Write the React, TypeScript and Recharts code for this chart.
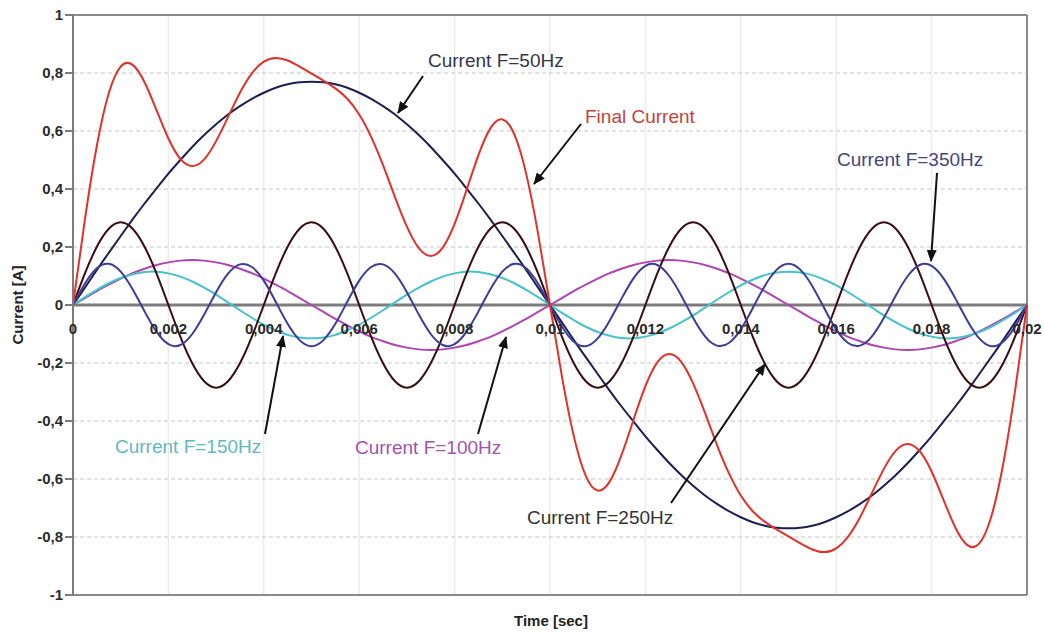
import React from 'react';
import { LineChart, Line, XAxis, YAxis, CartesianGrid, ReferenceLine } from 'recharts';

// time samples [sec]
const time = [
  0, 0.00025, 0.0005, 0.00075, 0.001, 0.00125, 0.0015, 0.00175, 0.002, 0.00225,
  0.0025, 0.00275, 0.003, 0.00325, 0.0035, 0.00375, 0.004, 0.00425, 0.0045, 0.00475,
  0.005, 0.00525, 0.0055, 0.00575, 0.006, 0.00625, 0.0065, 0.00675, 0.007, 0.00725,
  0.0075, 0.00775, 0.008, 0.00825, 0.0085, 0.00875, 0.009, 0.00925, 0.0095, 0.00975,
  0.01, 0.01025, 0.0105, 0.01075, 0.011, 0.01125, 0.0115, 0.01175, 0.012, 0.01225,
  0.0125, 0.01275, 0.013, 0.01325, 0.0135, 0.01375, 0.014, 0.01425, 0.0145, 0.01475,
  0.015, 0.01525, 0.0155, 0.01575, 0.016, 0.01625, 0.0165, 0.01675, 0.017, 0.01725,
  0.0175, 0.01775, 0.018, 0.01825, 0.0185, 0.01875, 0.019, 0.01925, 0.0195, 0.01975,
  0.02,
];

const current50 = [
  0, 0.06, 0.121, 0.18, 0.238, 0.295, 0.35, 0.402, 0.453, 0.5,
  0.545, 0.586, 0.623, 0.657, 0.686, 0.711, 0.732, 0.749, 0.761, 0.768,
  0.77, 0.768, 0.761, 0.749, 0.732, 0.711, 0.686, 0.657, 0.623, 0.586,
  0.545, 0.5, 0.453, 0.402, 0.35, 0.295, 0.238, 0.18, 0.121, 0.06,
  0, -0.06, -0.121, -0.18, -0.238, -0.295, -0.35, -0.402, -0.453, -0.5,
  -0.545, -0.586, -0.623, -0.657, -0.686, -0.711, -0.732, -0.749, -0.761, -0.768,
  -0.77, -0.768, -0.761, -0.749, -0.732, -0.711, -0.686, -0.657, -0.623, -0.586,
  -0.545, -0.5, -0.453, -0.402, -0.35, -0.295, -0.238, -0.18, -0.121, -0.06,
  0,
];

const current100 = [
  0, 0.024, 0.048, 0.07, 0.091, 0.11, 0.125, 0.138, 0.147, 0.153,
  0.155, 0.153, 0.147, 0.138, 0.125, 0.11, 0.091, 0.07, 0.048, 0.024,
  0, -0.024, -0.048, -0.07, -0.091, -0.11, -0.125, -0.138, -0.147, -0.153,
  -0.155, -0.153, -0.147, -0.138, -0.125, -0.11, -0.091, -0.07, -0.048, -0.024,
  0, 0.024, 0.048, 0.07, 0.091, 0.11, 0.125, 0.138, 0.147, 0.153,
  0.155, 0.153, 0.147, 0.138, 0.125, 0.11, 0.091, 0.07, 0.048, 0.024,
  0, -0.024, -0.048, -0.07, -0.091, -0.11, -0.125, -0.138, -0.147, -0.153,
  -0.155, -0.153, -0.147, -0.138, -0.125, -0.11, -0.091, -0.07, -0.048, -0.024,
  0,
];

const current150 = [
  0, 0.027, 0.052, 0.075, 0.093, 0.106, 0.114, 0.115, 0.109, 0.098,
  0.081, 0.06, 0.036, 0.009, -0.018, -0.044, -0.068, -0.087, -0.103, -0.112,
  -0.115, -0.112, -0.103, -0.087, -0.068, -0.044, -0.018, 0.009, 0.036, 0.06,
  0.081, 0.098, 0.109, 0.115, 0.114, 0.106, 0.093, 0.075, 0.052, 0.027,
  0, -0.027, -0.052, -0.075, -0.093, -0.106, -0.114, -0.115, -0.109, -0.098,
  -0.081, -0.06, -0.036, -0.009, 0.018, 0.044, 0.068, 0.087, 0.103, 0.112,
  0.115, 0.112, 0.103, 0.087, 0.068, 0.044, 0.018, -0.009, -0.036, -0.06,
  -0.081, -0.098, -0.109, -0.115, -0.114, -0.106, -0.093, -0.075, -0.052, -0.027,
  0,
];

const current250 = [
  0, 0.109, 0.201, 0.263, 0.285, 0.263, 0.201, 0.109, 0, -0.109,
  -0.201, -0.263, -0.285, -0.263, -0.201, -0.109, 0, 0.109, 0.201, 0.263,
  0.285, 0.263, 0.201, 0.109, 0, -0.109, -0.201, -0.263, -0.285, -0.263,
  -0.201, -0.109, 0, 0.109, 0.201, 0.263, 0.285, 0.263, 0.201, 0.109,
  0, -0.109, -0.201, -0.263, -0.285, -0.263, -0.201, -0.109, 0, 0.109,
  0.201, 0.263, 0.285, 0.263, 0.201, 0.109, 0, -0.109, -0.201, -0.263,
  -0.285, -0.263, -0.201, -0.109, 0, 0.109, 0.201, 0.263, 0.285, 0.263,
  0.201, 0.109, 0, -0.109, -0.201, -0.263, -0.285, -0.263, -0.201, -0.109,
  0,
];

const current350 = [
  0, 0.074, 0.127, 0.142, 0.115, 0.054, -0.022, -0.092, -0.135, -0.138,
  -0.1, -0.033, 0.044, 0.108, 0.14, 0.131, 0.084, 0.011, -0.065, -0.121,
  -0.142, -0.121, -0.065, 0.011, 0.084, 0.131, 0.14, 0.108, 0.044, -0.033,
  -0.1, -0.138, -0.135, -0.092, -0.022, 0.054, 0.115, 0.142, 0.127, 0.074,
  0, -0.074, -0.127, -0.142, -0.115, -0.054, 0.022, 0.092, 0.135, 0.138,
  0.1, 0.033, -0.044, -0.108, -0.14, -0.131, -0.084, -0.011, 0.065, 0.121,
  0.142, 0.121, 0.065, -0.011, -0.084, -0.131, -0.14, -0.108, -0.044, 0.033,
  0.1, 0.138, 0.135, 0.092, 0.022, -0.054, -0.115, -0.142, -0.127, -0.074,
  0,
];

const finalCurrent = [
  0, 0.295, 0.549, 0.73, 0.822, 0.828, 0.768, 0.672, 0.574, 0.504,
  0.479, 0.502, 0.565, 0.648, 0.732, 0.799, 0.839, 0.852, 0.843, 0.822,
  0.798, 0.774, 0.747, 0.711, 0.657, 0.58, 0.482, 0.372, 0.27, 0.196,
  0.169, 0.198, 0.28, 0.396, 0.517, 0.609, 0.64, 0.589, 0.453, 0.246,
  0, -0.246, -0.453, -0.589, -0.64, -0.609, -0.517, -0.396, -0.28, -0.198,
  -0.169, -0.196, -0.27, -0.372, -0.482, -0.58, -0.657, -0.711, -0.747, -0.774,
  -0.798, -0.822, -0.843, -0.852, -0.839, -0.799, -0.732, -0.648, -0.565, -0.502,
  -0.479, -0.504, -0.574, -0.672, -0.768, -0.828, -0.822, -0.73, -0.549, -0.295,
  0,
];

const xTicks = [0, 0.002, 0.004, 0.006, 0.008, 0.01, 0.012, 0.014, 0.016, 0.018, 0.02];
const xTickLabels = ['0', '0,002', '0,004', '0,006', '0,008', '0,01', '0,012', '0,014', '0,016', '0,018', '0,02'];
const yTicks = [-1, -0.8, -0.6, -0.4, -0.2, 0, 0.2, 0.4, 0.6, 0.8, 1];
const yTickLabels = ['-1', '-0,8', '-0,6', '-0,4', '-0,2', '0', '0,2', '0,4', '0,6', '0,8', '1'];

const data = time.map((t, i) => ({
  t,
  f50: current50[i],
  f100: current100[i],
  f150: current150[i],
  f250: current250[i],
  f350: current350[i],
  final: finalCurrent[i],
}));

const FONT = '"Liberation Sans", Arial, Helvetica, sans-serif';
const W = 1044;
const H = 634;
const MARGIN = { top: 15, right: 17, left: 13, bottom: 9 };
const PLOT_H = 580;
const ZERO_Y = MARGIN.top + PLOT_H / 2;

const XTick = (props: any) => {
  const { x, index } = props;
  return (
    <text x={x} y={ZERO_Y + 29} textAnchor="middle" fill="#2a2a2a" fontSize={15} fontWeight="bold" fontFamily={FONT}>
      {xTickLabels[index]}
    </text>
  );
};

const notes = [
  { text: 'Current F=50Hz', x: 428, y: 67, color: '#35354a', from: [423, 76], to: [398, 113] },
  { text: 'Final Current', x: 585, y: 123, color: '#c2423a', from: [581, 124], to: [534, 184] },
  { text: 'Current F=350Hz', x: 837, y: 166, color: '#45457a', from: [937, 173], to: [931, 261] },
  { text: 'Current F=150Hz', x: 115, y: 453, color: '#5fb9c0', from: [265, 434], to: [283, 336] },
  { text: 'Current F=100Hz', x: 355, y: 454, color: '#a352ab', from: [478, 434], to: [506, 337] },
  { text: 'Current F=250Hz', x: 527, y: 524, color: '#333', from: [671, 503], to: [765, 364] },
];

export default function App() {
  return (
    <div style={{ position: 'absolute', left: 0, top: 0, width: W, height: H, background: '#fff' }}>
      <LineChart width={W} height={H} data={data} margin={MARGIN}>
        <CartesianGrid horizontal={false} stroke="#ececec" strokeWidth={1.5} />
        {yTicks
          .filter((v) => v !== 0 && Math.abs(v) !== 1)
          .map((v) => (
            <ReferenceLine key={v} y={v} stroke="#c6c6c6" strokeDasharray="4 3" strokeWidth={1.2} />
          ))}
        <ReferenceLine y={1} stroke="#8a8a8a" strokeWidth={2} />
        <ReferenceLine x={0.02} stroke="#8a8a8a" strokeWidth={2} />
        <ReferenceLine y={0} stroke="#7c7c7c" strokeWidth={3} />
        <XAxis
          dataKey="t"
          type="number"
          domain={[0, 0.02]}
          ticks={xTicks}
          interval={0}
          height={30}
          tickLine={false}
          axisLine={{ stroke: '#8a8a8a', strokeWidth: 2 }}
          tick={<XTick />}
        />
        <YAxis
          type="number"
          domain={[-1, 1]}
          ticks={yTicks}
          interval={0}
          width={60}
          tickSize={8}
          tickFormatter={(v: number, i: number) => yTickLabels[i]}
          tick={{ fill: '#2a2a2a', fontSize: 15, fontWeight: 'bold', fontFamily: FONT }}
          tickLine={{ stroke: '#7c7c7c', strokeWidth: 2 }}
          axisLine={{ stroke: '#7c7c7c', strokeWidth: 2 }}
        />
        <Line type="natural" dataKey="f50" stroke="#1e1e52" strokeWidth={2} dot={false} isAnimationActive={false} />
        <Line type="natural" dataKey="f100" stroke="#b044b0" strokeWidth={2} dot={false} isAnimationActive={false} />
        <Line type="natural" dataKey="f150" stroke="#45c2ca" strokeWidth={2} dot={false} isAnimationActive={false} />
        <Line type="natural" dataKey="f250" stroke="#3a0c12" strokeWidth={2} dot={false} isAnimationActive={false} />
        <Line type="natural" dataKey="f350" stroke="#3c3c9a" strokeWidth={2} dot={false} isAnimationActive={false} />
        <Line type="natural" dataKey="final" stroke="#e2312b" strokeWidth={2} dot={false} isAnimationActive={false} />
      </LineChart>
      <svg width={W} height={H} style={{ position: 'absolute', left: 0, top: 0, pointerEvents: 'none' }}>
        <defs>
          <marker id="head" markerWidth="12" markerHeight="10" refX="11" refY="5" orient="auto" markerUnits="userSpaceOnUse">
            <path d="M0,0 L12,5 L0,10 z" fill="#111" />
          </marker>
        </defs>
        {notes.map((n) => (
          <g key={n.text}>
            <line x1={n.from[0]} y1={n.from[1]} x2={n.to[0]} y2={n.to[1]} stroke="#111" strokeWidth={2} markerEnd="url(#head)" />
            <text x={n.x} y={n.y} fill={n.color} fontSize={19} fontFamily={FONT}>
              {n.text}
            </text>
          </g>
        ))}
        <text x={17} y={305} transform="rotate(-90 17 305)" textAnchor="middle" dominantBaseline="central" fill="#222" fontSize={15} fontWeight="bold" fontFamily={FONT}>
          Current [A]
        </text>
        <text x={551} y={626} textAnchor="middle" fill="#222" fontSize={15} fontWeight="bold" fontFamily={FONT}>
          Time [sec]
        </text>
      </svg>
    </div>
  );
}
